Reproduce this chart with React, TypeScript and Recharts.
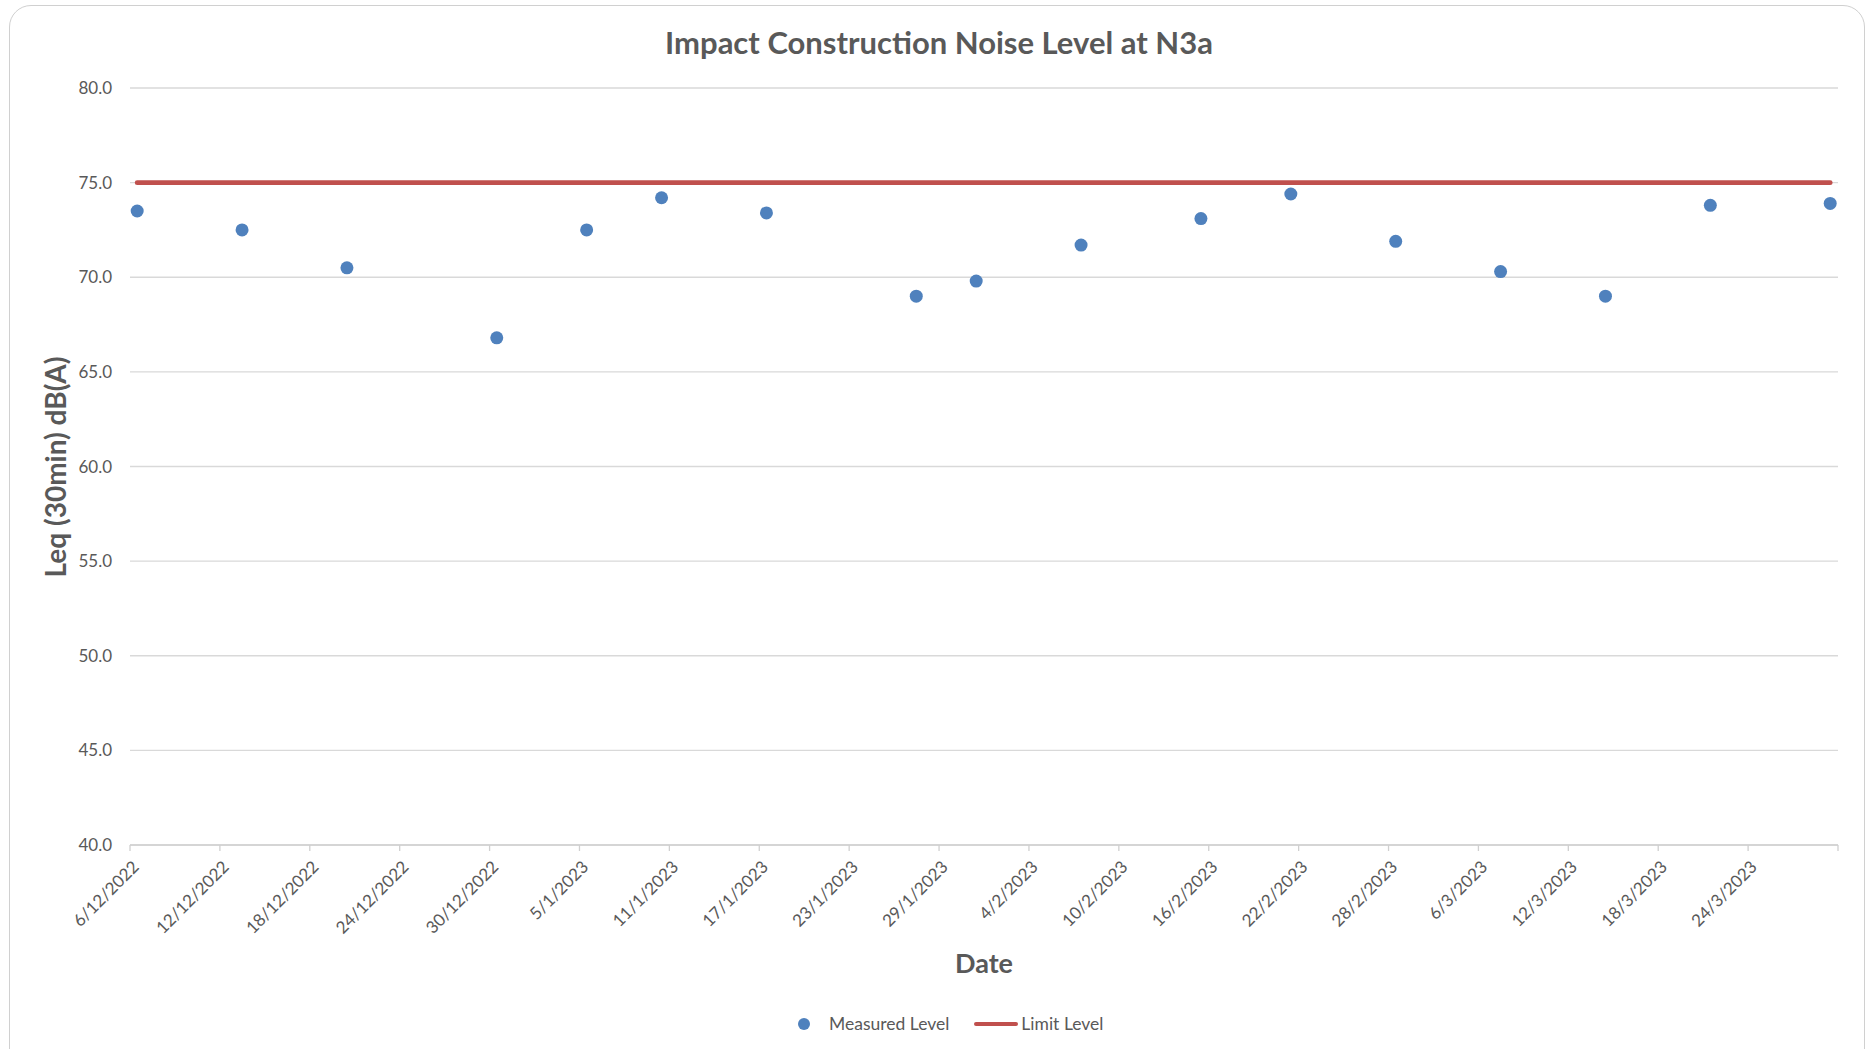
import React from "react";
import { ComposedChart, Line, Scatter, XAxis, YAxis, CartesianGrid } from "recharts";

// measurement dates (d/m/yyyy) and Leq(30min) readings
const MEASURE_DATES = [
  "6/12/2022", "13/12/2022", "20/12/2022", "30/12/2022", "5/1/2023", "10/1/2023",
  "17/1/2023", "27/1/2023", "31/1/2023", "7/2/2023", "15/2/2023", "21/2/2023",
  "28/2/2023", "7/3/2023", "14/3/2023", "21/3/2023", "29/3/2023",
];
const MEASURE_HOUR = 11.5;
const MEASURED_LEVEL = [73.5, 72.5, 70.5, 66.8, 72.5, 74.2, 73.4, 69.0, 69.8, 71.7, 73.1, 74.4, 71.9, 70.3, 69.0, 73.8, 73.9];
const LIMIT_LEVEL = [75, 75, 75, 75, 75, 75, 75, 75, 75, 75, 75, 75, 75, 75, 75, 75, 75];

const X_TICK_LABELS = [
  "6/12/2022", "12/12/2022", "18/12/2022", "24/12/2022", "30/12/2022", "5/1/2023",
  "11/1/2023", "17/1/2023", "23/1/2023", "29/1/2023", "4/2/2023", "10/2/2023",
  "16/2/2023", "22/2/2023", "28/2/2023", "6/3/2023", "12/3/2023", "18/3/2023", "24/3/2023",
];
const X_AXIS_END = "30/3/2023";
const Y_TICKS = [40, 45, 50, 55, 60, 65, 70, 75, 80];

const BLUE = "#4F81BD";
const RED = "#C0504D";
const TEXT = "#595959";
const FONT = "Lato, 'Open Sans', sans-serif";

const toDay = (s: string) => {
  const [d, m, y] = s.split("/").map(Number);
  return (Date.UTC(y, m - 1, d) - Date.UTC(2022, 11, 6)) / 86400000;
};

const data = MEASURE_DATES.map((d, i) => ({
  t: toDay(d) + MEASURE_HOUR / 24,
  measured: MEASURED_LEVEL[i],
  limit: LIMIT_LEVEL[i],
}));

const xTicks = [...X_TICK_LABELS.map(toDay), toDay(X_AXIS_END)];
const labelFor = (v: number) => X_TICK_LABELS.find((l) => toDay(l) === v) ?? "";

const XTick = (props: any) => {
  const { x, y, payload } = props;
  const label = labelFor(payload.value);
  if (!label) return null;
  const tx = x + 10;
  const ty = y + 15;
  return (
    <text x={tx} y={ty} textAnchor="end" transform={`rotate(-45 ${tx} ${ty})`}
      fontSize={17} fill={TEXT} fontFamily={FONT}>
      {label}
    </text>
  );
};

const Dot = (props: any) => <circle cx={props.cx} cy={props.cy} r={6.5} fill={BLUE} />;

export default function App() {
  return (
    <div style={{ position: "fixed", left: 0, top: 0, width: 1868, height: 1049, overflow: "hidden", background: "#fff" }}>
      <div style={{
        position: "absolute", left: 9, top: 5, width: 1856, height: 1070,
        border: "1.5px solid #d0d0d0", borderRadius: 22, boxSizing: "border-box",
      }} />
      <div style={{ position: "absolute", left: 0, top: 0 }}>
        <ComposedChart width={1868} height={1049} data={data}
          margin={{ top: 88, right: 30, bottom: 174, left: 0 }}>
          <CartesianGrid vertical={false} stroke="#d9d9d9" strokeWidth={1.3} />
          <XAxis dataKey="t" type="number" domain={[0, toDay(X_AXIS_END)]} ticks={xTicks}
            interval={0} height={30} tick={<XTick />} stroke="#d0d0d0" strokeWidth={1.3}
            tickLine={{ stroke: "#d0d0d0" }} tickSize={6} />
          <YAxis type="number" domain={[40, 80]} ticks={Y_TICKS} width={130}
            axisLine={false} tickLine={false} tickSize={0} tickMargin={18}
            tickFormatter={(v: number) => v.toFixed(1)}
            tick={{ fontSize: 17, fill: TEXT, fontFamily: FONT }} />
          <Line dataKey="limit" type="linear" stroke={RED} strokeWidth={4.8} strokeLinecap="round"
            dot={false} activeDot={false} isAnimationActive={false} />
          <Scatter dataKey="measured" fill={BLUE} shape={<Dot />} isAnimationActive={false} />
        </ComposedChart>
      </div>
      <div style={{
        position: "absolute", left: 0, width: 1878, top: 27, textAlign: "center",
        fontFamily: FONT, fontWeight: 700, fontSize: 31, lineHeight: "31px", color: TEXT,
      }}>
        Impact Construction Noise Level at N3a
      </div>
      <div style={{
        position: "absolute", left: 884, width: 200, top: 949, textAlign: "center",
        fontFamily: FONT, fontWeight: 700, fontSize: 27, lineHeight: "27px", color: TEXT,
      }}>
        Date
      </div>
      <div style={{
        position: "absolute", left: 55, top: 467, transform: "translate(-50%, -50%) rotate(-90deg)",
        whiteSpace: "nowrap", fontFamily: FONT, fontWeight: 700, fontSize: 28, lineHeight: "28px", color: TEXT,
      }}>
        Leq (30min) dB(A)
      </div>
      <div style={{
        position: "absolute", left: 798, top: 1012, display: "flex", alignItems: "center",
        fontFamily: FONT, fontSize: 17.5, lineHeight: "24px", color: TEXT, whiteSpace: "nowrap",
      }}>
        <span style={{ width: 12, height: 12, borderRadius: 6, background: BLUE, display: "inline-block" }} />
        <span style={{ marginLeft: 19 }}>Measured Level</span>
        <span style={{ marginLeft: 25, width: 44, height: 4.8, borderRadius: 3, background: RED, display: "inline-block" }} />
        <span style={{ marginLeft: 3 }}>Limit Level</span>
      </div>
    </div>
  );
}
